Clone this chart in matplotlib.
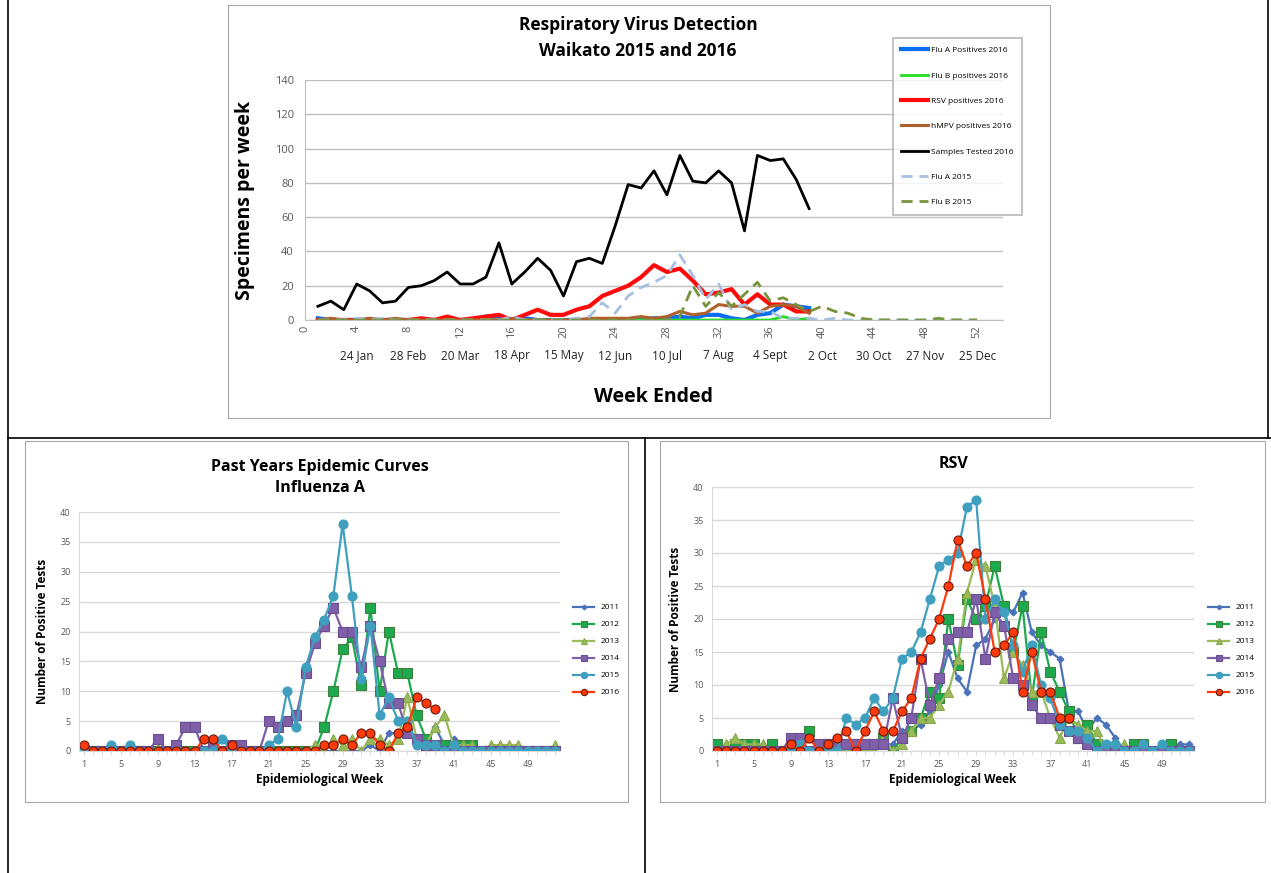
import matplotlib.pyplot as plt
from matplotlib.patches import Rectangle
from matplotlib.lines import Line2D

plt.rcParams['font.family'] = ['Open Sans', 'DejaVu Sans']

# ---- top chart data (weeks 1..39 for 2016, 1..52 for 2015) ----
weeks16 = list(range(1, 40))
samples_2016 = [8, 11, 6, 21, 17, 10, 11, 19, 20, 23, 28, 21, 21, 25, 45, 21, 28, 36, 29, 14,
                34, 36, 33, 55, 79, 77, 87, 73, 96, 81, 80, 87, 80, 52, 96, 93, 94, 82, 65]
rsv_2016 = [0, 0, 0, 0, 0, 0, 0, 0, 1, 0, 2, 0, 1, 2, 3, 0, 3, 6, 3, 3,
            6, 8, 14, 17, 20, 25, 32, 28, 30, 23, 15, 16, 18, 9, 15, 9, 9, 5, 5]
flua_2016 = [1, 0, 0, 0, 0, 0, 0, 0, 0, 0, 0, 0, 0, 2, 2, 0, 1, 0, 0, 0,
             0, 0, 0, 0, 0, 0, 1, 1, 2, 1, 3, 3, 1, 0, 3, 4, 9, 8, 7]
flub_2016 = [0] * 36 + [2, 0, 1]
hmpv_2016 = [0, 1, 0, 0, 1, 0, 1, 0, 0, 0, 0, 0, 0, 0, 0, 1, 0, 0, 0, 0,
             0, 1, 1, 1, 1, 2, 1, 2, 5, 3, 4, 9, 8, 8, 4, 8, 9, 8, 4]

weeks = list(range(1, 53))
flua_2015 = [0, 0, 0, 1, 0, 1, 0, 0, 0, 0, 0, 0, 0, 0, 0, 2, 0, 0, 0, 0,
             1, 2, 10, 4, 14, 19, 22, 26, 38, 26, 12, 21, 6, 9, 5, 5, 1, 1, 1, 0,
             1, 0, 0, 0, 0, 0, 0, 0, 0, 0, 0, 0]
flub_2015 = [0, 0, 0, 0, 0, 0, 0, 0, 0, 0, 0, 0, 0, 0, 0, 0, 0, 0, 0, 0,
             0, 0, 0, 0, 0, 0, 0, 0, 2, 20, 8, 16, 8, 15, 22, 11, 13, 9, 5, 8,
             5, 4, 1, 0, 0, 0, 0, 0, 1, 0, 0, 0]

week_ticks = list(range(0, 53, 4))
date_labels = ["24 Jan", "28 Feb", "20 Mar", "18 Apr", "15 May", "12 Jun", "10 Jul",
               "7 Aug", "4 Sept", "2 Oct", "30 Oct", "27 Nov", "25 Dec"]

# ---- influenza A past years ----
fa_2011 = [0] * 31 + [1, 0, 3, 3, 4, 2, 1, 4, 1, 2, 1] + [0] * 10
fa_2012 = [0] * 26 + [4, 10, 17, 19, 11, 24, 10, 20, 13, 13, 6, 2, 0, 1, 0, 1, 1] + [0] * 9
fa_2013 = [0] * 8 + [0.5] + [0] * 16 + [1, 0, 2, 1, 2, 0, 2, 2, 1, 2, 9, 2, 1, 4, 6, 1, 1, 1, 0,
                                       1, 1, 1, 1, 0, 0, 0, 1]
fa_2014 = [0, 0, 0, 0, 0, 0, 0, 0, 2, 0, 1, 4, 4, 0, 1, 0, 1, 1, 0, 0,
           5, 4, 5, 6, 13, 18, 21, 24, 20, 20, 14, 21, 15, 8, 8, 3, 2, 1, 1, 0,
           0, 0, 0, 0, 0, 0, 0, 0, 0, 0, 0, 0]
fa_2015 = flua_2015
fa_2016 = flua_2016

# ---- RSV past years ----
rsv_2011 = [0, 0, 0, 0, 0, 0, 0, 0, 0, 0, 0, 0, 1, 1, 1, 1, 1, 1, 1, 1,
            3, 3, 4, 6, 10, 15, 11, 9, 16, 17, 20, 22, 21, 24, 18, 16, 15, 14, 6, 6,
            3, 5, 4, 2, 0, 0, 0, 0, 0, 0, 1, 1]
rsv_2012 = [1, 0, 1, 1, 1, 0, 1, 0, 0, 1, 3, 0, 1, 1, 1, 1, 1, 1, 2, 0,
            2, 3, 5, 9, 8, 20, 13, 23, 20, 22, 28, 22, 15, 22, 8, 18, 12, 9, 6, 2,
            4, 1, 0, 0, 0, 1, 1, 0, 0, 1, 0, 0]
rsv_2013 = [0, 1, 2, 1, 1, 1, 0, 0, 0, 0, 0, 0, 0, 0, 0, 0, 0, 0, 2, 0,
            1, 3, 5, 5, 7, 9, 14, 24, 29, 28, 22, 11, 15, 13, 9, 9, 5, 2, 5, 4,
            3, 3, 0, 0, 1, 0, 0, 0, 0, 0, 0, 0]
rsv_2014 = [0, 0, 0, 0, 0, 0, 0, 0, 2, 2, 0, 1, 1, 1, 1, 1, 1, 1, 1, 8,
            2, 5, 14, 7, 11, 17, 18, 18, 23, 14, 21, 19, 11, 10, 7, 5, 5, 4, 3, 2,
            1, 0, 0, 0, 0, 0, 0, 0, 0, 0, 0, 0]
rsv_2015 = [0, 0, 0, 0, 0, 0, 0, 0, 0, 1, 0, 0, 0, 0, 5, 4, 5, 8, 6, 8,
            14, 15, 18, 23, 28, 29, 30, 37, 38, 20, 23, 21, 16, 12, 16, 10, 8, 4, 3, 3,
            2, 0, 1, 1, 0, 0, 1, 0, 1, 0, 0, 0]

years = ["2011", "2012", "2013", "2014", "2015", "2016"]
year_colors = ["#4A72B8", "#1DAA4F", "#9BBB59", "#7F5FA8", "#3F9FBF", "#FF3A0A"]
year_edges = ["#4A72B8", "#3F7F3A", "#8AA84D", "#6B4F92", "#3F9FBF", "#6B1A0A"]
year_markers = ["D", "s", "^", "s", "o", "o"]
year_msize = [3.5, 6.5, 6.5, 6.5, 6.5, 6.5]

fig = plt.figure(figsize=(12.71, 8.73), dpi=100)


# frames
def frame(x0, y0, x1, y1, color, lw):
    fig.add_artist(Rectangle((x0 / 1271, 1 - y1 / 873), (x1 - x0) / 1271, (y1 - y0) / 873,
                             transform=fig.transFigure, fill=False, ec=color, lw=lw))


fig.add_artist(Line2D([8 / 1271, 8 / 1271], [0, 1], color="black", lw=1.2))
fig.add_artist(Line2D([1268 / 1271, 1268 / 1271], [1 - 438 / 873, 1], color="black", lw=1.2))
fig.add_artist(Line2D([8 / 1271, 1], [1 - 438 / 873, 1 - 438 / 873], color="black", lw=1.2))
fig.add_artist(Line2D([645 / 1271, 645 / 1271], [0, 1 - 438 / 873], color="black", lw=1.2))
frame(228, 5, 1050, 418, "#A6A6A6", 0.8)
frame(25, 441, 628, 802, "#A6A6A6", 0.8)
frame(660, 441, 1265, 802, "#A6A6A6", 0.8)

grid_c = "#D9D9D9"
tick_c = "#595959"

# ---- top chart ----
ax = fig.add_axes([305 / 1271, 1 - 320 / 873, 698 / 1271, 240 / 873])
ax.plot(weeks16, flua_2016, color="#0A6EF5", lw=3, label="Flu A Positives 2016")
ax.plot(weeks16, flub_2016, color="#22DD22", lw=2, label="Flu B positives 2016")
ax.plot(weeks16, rsv_2016, color="#FF0A0A", lw=3, label="RSV positives 2016")
ax.plot(weeks16, hmpv_2016, color="#B0602A", lw=2.2, label="hMPV positives 2016")
ax.plot(weeks16, samples_2016, color="black", lw=2, label="Samples Tested 2016")
ax.plot(weeks, flua_2015, color="#A6BFE0", lw=2, ls=(0, (4, 2.5)), label="Flu A 2015")
ax.plot(weeks, flub_2015, color="#77933C", lw=2, ls=(0, (4, 2.5)), label="Flu B 2015")
ax.set_xlim(0, 54)
ax.set_ylim(0, 140)
ax.set_yticks(range(0, 141, 20))
ax.set_xticks(week_ticks)
ax.tick_params(axis="x", labelrotation=90, labelsize=8, colors=tick_c, length=0, pad=4)
ax.tick_params(axis="y", labelsize=8, colors=tick_c, length=0, pad=8)
ax.grid(axis="y", color="#BFBFBF", lw=1)
ax.set_axisbelow(True)
for s in ["top", "right"]:
    ax.spines[s].set_visible(False)
ax.spines["left"].set_color("#BFBFBF")
ax.spines["bottom"].set_color("#BFBFBF")
for wk, lab in zip(week_ticks[1:], date_labels):
    ax.text(wk, -0.15, lab, transform=ax.get_xaxis_transform(), ha="center", va="center",
            fontsize=8.5, color="#222222")
ax.set_ylabel("Specimens per week", fontsize=14, fontweight="bold", labelpad=14)
ax.set_xlabel("Week Ended", fontsize=14, fontweight="bold", labelpad=35)
fig.text(638 / 1271, 1 - 38 / 873, "Respiratory Virus Detection\nWaikato 2015 and 2016",
         ha="center", va="center", fontsize=12.5, fontweight="bold", linespacing=1.5)
leg = ax.legend(loc="upper left", bbox_to_anchor=(893 / 1271, 1 - 38 / 873),
                bbox_transform=fig.transFigure, fontsize=6, frameon=True, fancybox=False,
                edgecolor="#A6A6A6", labelspacing=2.1, handlelength=3.2, handletextpad=0.4,
                borderpad=1.0, borderaxespad=0)
leg.get_frame().set_linewidth(1.2)


def small_chart(rect, data, title, title_y, leg_x):
    a = fig.add_axes(rect)
    for i in range(6):
        a.plot(weeks[:len(data[i])], data[i], color=year_colors[i], lw=1.6,
               marker=year_markers[i], ms=year_msize[i], mfc=year_colors[i],
               mec=year_edges[i], mew=0.8, label=years[i])
    a.set_xlim(0.5, 52.5)
    a.set_ylim(0, 40)
    a.set_yticks(range(0, 41, 5))
    a.set_xticks(range(1, 53, 4))
    a.set_xticks(range(1, 53), minor=True)
    a.tick_params(axis="both", which="major", labelsize=6.5, colors=tick_c)
    a.tick_params(axis="x", which="both", length=3, color=grid_c)
    a.tick_params(axis="y", length=0, pad=6)
    a.grid(axis="y", color=grid_c, lw=1)
    a.set_axisbelow(True)
    for s in ["top", "right"]:
        a.spines[s].set_visible(False)
    a.spines["left"].set_color(grid_c)
    a.spines["bottom"].set_color(grid_c)
    a.set_ylabel("Number of Positive Tests", fontsize=8.5, fontweight="bold", labelpad=8)
    a.set_xlabel("Epidemiological Week", fontsize=8.5, fontweight="bold", labelpad=3)
    a.set_title(title, fontsize=11.5, fontweight="bold", y=title_y, linespacing=1.4)
    a.legend(loc="center left", bbox_to_anchor=(leg_x / 1271, 1 - 650 / 873),
             bbox_transform=fig.transFigure, fontsize=6, frameon=False,
             labelspacing=1.1, handlelength=2.5, markerscale=0.7, borderaxespad=0)
    return a


small_chart([79 / 1271, 1 - 751 / 873, 481 / 1271, 239 / 873],
            [fa_2011, fa_2012, fa_2013, fa_2014, fa_2015, fa_2016],
            "Past Years Epidemic Curves\nInfluenza A", 1.05, 570)
small_chart([712 / 1271, 1 - 751 / 873, 482 / 1271, 264 / 873],
            [rsv_2011, rsv_2012, rsv_2013, rsv_2014, rsv_2015, rsv_2016],
            "RSV", 1.04, 1205)

fig.savefig("out.png", dpi=100)
